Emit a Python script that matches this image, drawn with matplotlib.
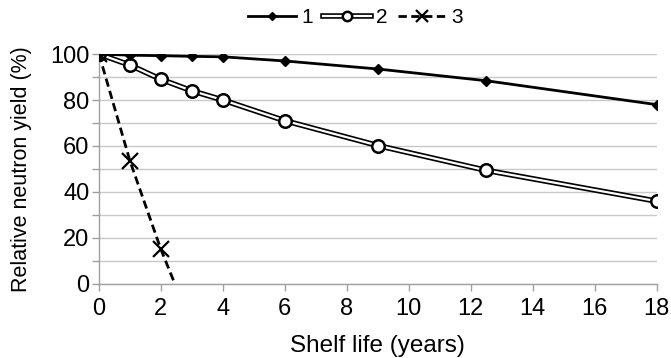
import numpy as np
import matplotlib
matplotlib.use("Agg")
from matplotlib import pyplot as plt
from matplotlib.legend_handler import HandlerTuple

plt.rcParams['font.family'] = ['Liberation Sans', 'DejaVu Sans']

# Data
years = [0, 1, 2, 3, 4, 6, 9, 12.5, 18]
yield_1 = [100, 99.5, 99.3, 99, 98.8, 97, 93.5, 88.4, 78]
yield_2 = [100, 95.2, 89, 84, 80, 71, 60.2, 49.4, 36]
years_3 = [0, 1, 2, 2.45]
yield_3 = [100, 53.5, 15, 0]
series_labels = ['1', '2', '3']

grey = '#a0a0a0'

fig = plt.figure(figsize=(6.71, 3.58), dpi=100)
ax = fig.add_axes([0.1475, 0.207, 0.831, 0.642])

# series 1
h1, = ax.plot(years, yield_1, color='black', lw=2, marker='D', ms=5.5, zorder=5)

# series 2 - double line (black outline, white core)
h2a, = ax.plot(years, yield_2, color='black', lw=4, zorder=4)
h2b, = ax.plot(years, yield_2, color='white', lw=1.6, marker='o', ms=9,
               mfc='white', mec='black', mew=1.8, zorder=4)

# series 3 - dashed with crosses
h3, = ax.plot(years_3, yield_3, color='black', lw=2, ls=(0, (3, 1.6)),
              marker='x', ms=11, mew=1.6, markevery=[0, 1, 2], zorder=6)

ax.set_xlim(0, 18)
ax.set_ylim(0, 100)
ax.set_xticks(np.arange(0, 19, 2))
ax.set_yticks(np.arange(0, 101, 20))
ax.set_yticks(np.arange(10, 100, 20), minor=True)
ax.grid(True, which='both', axis='y', color='#c8c8c8', lw=1)
ax.set_axisbelow(True)

for s in ['top', 'right']:
    ax.spines[s].set_visible(False)
for s in ['left', 'bottom']:
    ax.spines[s].set_color(grey)
    ax.spines[s].set_linewidth(1)

ax.tick_params(axis='both', which='both', color=grey, length=5, width=1,
               labelsize=17, pad=2)
ax.tick_params(axis='x', pad=5)

ax.set_xlabel('Shelf life (years)', fontsize=17.5, labelpad=11)
ax.set_ylabel('Relative neutron yield (%)', fontsize=15.5, labelpad=13)

leg = fig.legend([h1, (h2a, h2b), h3], series_labels,
                 handler_map={tuple: HandlerTuple(ndivide=1)},
                 loc='upper center', bbox_to_anchor=(0.53, 1.03), ncol=3,
                 frameon=False, fontsize=15, handlelength=2.3,
                 handletextpad=0.25, columnspacing=0.5, markerscale=0.75)

fig.savefig('out.png', dpi=100)
